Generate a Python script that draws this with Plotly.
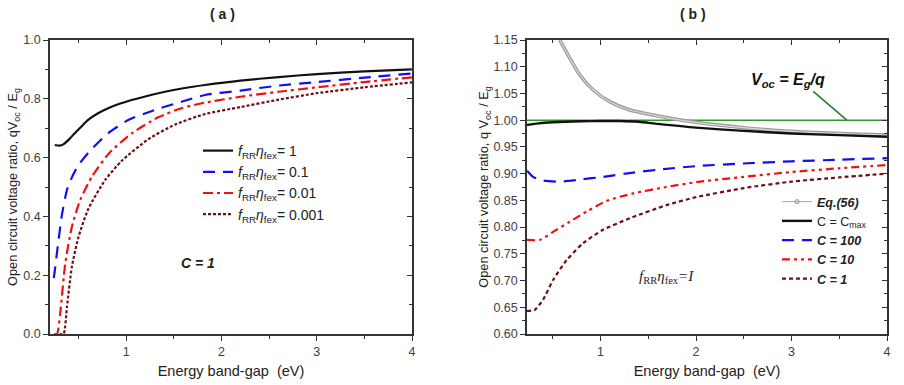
import plotly.graph_objects as go

# ---------------- Panel (a) data: C = 1 ----------------
a_x_1 = [0.25, 0.30, 0.34, 0.40, 0.46, 0.53, 0.60, 0.70, 0.81, 0.93, 1.056, 1.2, 1.406, 1.6, 1.826, 2.2, 2.6, 3.0, 3.5, 4.0]
a_y_1 = [0.643, 0.641, 0.645, 0.662, 0.683, 0.706, 0.728, 0.750, 0.768, 0.783, 0.796, 0.808, 0.824, 0.836, 0.847, 0.862, 0.874, 0.884, 0.893, 0.900]

a_x_01 = [0.24, 0.25, 0.29, 0.325, 0.378, 0.44, 0.5, 0.619, 0.811, 1.021, 1.3, 1.58, 1.826, 2.2, 2.6, 3.0, 3.5, 4.0]
a_y_01 = [0.19, 0.215, 0.32, 0.405, 0.49, 0.54, 0.575, 0.623, 0.683, 0.728, 0.762, 0.790, 0.813, 0.828, 0.845, 0.857, 0.872, 0.886]

a_x_001 = [0.24, 0.273, 0.307, 0.36, 0.43, 0.517, 0.64, 0.82, 1.07, 1.336, 1.58, 1.826, 2.2, 2.6, 3.0, 3.5, 4.0]
a_y_001 = [0.0, 0.0, 0.07, 0.24, 0.365, 0.456, 0.535, 0.615, 0.685, 0.737, 0.768, 0.787, 0.807, 0.824, 0.839, 0.857, 0.873]

a_x_0001 = [0.30, 0.342, 0.378, 0.43, 0.5, 0.604, 0.78, 0.95, 1.23, 1.51, 1.826, 2.2, 2.6, 3.0, 3.5, 4.0]
a_y_0001 = [0.0, 0.0, 0.093, 0.229, 0.331, 0.427, 0.524, 0.588, 0.662, 0.712, 0.748, 0.772, 0.797, 0.819, 0.839, 0.856]

a_names = ["<i>f</i><sub>RR</sub><i>η</i><sub>fex</sub>= 1",
           "<i>f</i><sub>RR</sub><i>η</i><sub>fex</sub>= 0.1",
           "<i>f</i><sub>RR</sub><i>η</i><sub>fex</sub>= 0.01",
           "<i>f</i><sub>RR</sub><i>η</i><sub>fex</sub>= 0.001"]

# ---------------- Panel (b) data: f_RR*eta_fex = 1 ----------------
b_x_eq = [0.573, 0.678, 0.783, 0.923, 1.097, 1.307, 1.551, 1.726, 2.0, 2.5, 3.0, 3.5, 4.0]
b_y_eq = [1.15, 1.116, 1.0845, 1.0565, 1.0346, 1.019, 1.0097, 1.0035, 0.996, 0.986, 0.979, 0.975, 0.972]

b_x_max = [0.23, 0.35, 0.5, 0.8, 1.0, 1.2, 1.4, 1.6, 2.0, 2.5, 3.0, 3.5, 4.0]
b_y_max = [0.991, 0.994, 0.996, 0.998, 0.9985, 0.9985, 0.997, 0.993, 0.986, 0.980, 0.975, 0.972, 0.969]

b_x_100 = [0.23, 0.241, 0.293, 0.398, 0.573, 0.783, 1.027, 1.342, 1.69, 2.0, 2.5, 3.0, 3.5, 4.0]
b_y_100 = [0.905, 0.9036, 0.894, 0.887, 0.885, 0.889, 0.894, 0.902, 0.909, 0.914, 0.919, 0.923, 0.926, 0.929]

b_x_10 = [0.23, 0.364, 0.503, 0.678, 0.853, 1.063, 1.342, 1.69, 2.0, 2.5, 3.0, 3.5, 4.0]
b_y_10 = [0.776, 0.776, 0.791, 0.81, 0.829, 0.849, 0.863, 0.875, 0.884, 0.894, 0.903, 0.910, 0.916]

b_x_1 = [0.23, 0.31, 0.398, 0.503, 0.644, 0.818, 1.027, 1.307, 1.69, 2.0, 2.5, 3.0, 3.5, 4.0]
b_y_1 = [0.643, 0.645, 0.664, 0.701, 0.738, 0.77, 0.795, 0.8166, 0.841, 0.856, 0.873, 0.885, 0.893, 0.90]

b_x_line = [0.23, 4.0]
b_y_line = [1.0, 1.0]

b_names = ["<b><i>Eq.(56)</i></b>", "C = C<sub>max</sub>", "<b><i>C = 100</i></b>",
           "<b><i>C = 10</i></b>", "<b><i>C = 1</i></b>"]

BLACK = "#111111"
BLUE = "#1010f0"
RED = "#f01010"
DRED = "#6e0f12"
GREEN = "#2e9a2e"
GRAY = "#a8a8a8"
FONT = "Liberation Sans, Arial, sans-serif"

fig = go.Figure()

def line(x, y, color, dash, name, xa, ya, legend, width=2.2, show=True):
    fig.add_trace(go.Scatter(x=x, y=y, mode="lines", name=name, xaxis=xa, yaxis=ya,
                             line=dict(color=color, dash=dash, width=width, shape="spline", smoothing=0.6),
                             legend=legend, showlegend=show))

# panel a
line(a_x_1, a_y_1, BLACK, "solid", a_names[0], "x", "y", "legend")
line(a_x_01, a_y_01, BLUE, "12px,8px", a_names[1], "x", "y", "legend")
line(a_x_001, a_y_001, RED, "10px,4px,3px,4px", a_names[2], "x", "y", "legend")
line(a_x_0001, a_y_0001, DRED, "3px,2px", a_names[3], "x", "y", "legend")

# panel b
fig.add_trace(go.Scatter(x=b_x_line, y=b_y_line, mode="lines", xaxis="x2", yaxis="y2",
                         line=dict(color=GREEN, width=1.6), showlegend=False))
fig.add_trace(go.Scatter(x=b_x_eq, y=b_y_eq, mode="lines", xaxis="x2", yaxis="y2",
                         line=dict(color="#9a9a9a", width=3.6, shape="spline", smoothing=0.6), showlegend=False))
fig.add_trace(go.Scatter(x=b_x_eq, y=b_y_eq, mode="lines", xaxis="x2", yaxis="y2",
                         line=dict(color="#d9d9d9", width=1.2, shape="spline", smoothing=0.6), showlegend=False))
fig.add_trace(go.Scatter(x=[None], y=[None], mode="lines+markers", name=b_names[0], xaxis="x2", yaxis="y2",
                         line=dict(color=GRAY, width=1),
                         marker=dict(symbol="circle-open", size=4, color="#888888"), legend="legend2"))
line(b_x_max, b_y_max, BLACK, "solid", b_names[1], "x2", "y2", "legend2", width=2.4)
line(b_x_100, b_y_100, BLUE, "12px,8px", b_names[2], "x2", "y2", "legend2")
line(b_x_10, b_y_10, RED, "8px,4px,3px,4px,3px,4px", b_names[3], "x2", "y2", "legend2")
line(b_x_1, b_y_1, DRED, "4px,3px", b_names[4], "x2", "y2", "legend2")

# empty traces so that the inward-tick mirror axes are drawn
fig.add_trace(go.Scatter(x=[None], y=[None], xaxis="x3", yaxis="y3", showlegend=False))
fig.add_trace(go.Scatter(x=[None], y=[None], xaxis="x4", yaxis="y4", showlegend=False))

XD1 = [50 / 904, 412 / 904]
XD2 = [527 / 904, 887 / 904]
YD = [51 / 385, 345 / 385]

tickfont = dict(family=FONT, size=12.5, color="#404040")
axcol = "#333333"

def xax(rng, dom, anchor, title):
    return dict(range=rng, domain=dom, anchor=anchor, showgrid=False, zeroline=False, automargin=False,
                showline=True, linecolor=axcol, linewidth=1.5, mirror=True,
                ticks="outside", ticklen=5, tickwidth=1.2, tickcolor=axcol,
                tickvals=[1, 2, 3, 4], tickfont=tickfont,
                minor=dict(ticks="outside", ticklen=3, tickcolor=axcol, dtick=0.5, tick0=0),
                title=dict(text=title, font=dict(family=FONT, size=14.5, color="#222222"), standoff=8))

def yax(rng, dom, anchor, dtick, mdtick, fmt, title, standoff):
    return dict(range=rng, domain=dom, anchor=anchor, showgrid=False, zeroline=False, automargin=False,
                showline=True, linecolor=axcol, linewidth=1.5, mirror=True,
                ticks="outside", ticklen=5, tickwidth=1.2, tickcolor=axcol,
                dtick=dtick, tick0=0, tickformat=fmt, tickfont=tickfont,
                minor=dict(ticks="outside", ticklen=3, tickcolor=axcol, dtick=mdtick, tick0=0),
                title=dict(text=title, font=dict(family=FONT, size=12.8, color="#222222"), standoff=standoff))

def mirror_x(rng, dom, over, anchor):
    return dict(range=rng, domain=dom, overlaying=over, anchor=anchor, side="top", automargin=False,
                showgrid=False, zeroline=False, showline=False, showticklabels=False,
                ticks="inside", ticklen=5, tickwidth=1.2, tickcolor=axcol, tickvals=[1, 2, 3, 4],
                minor=dict(ticks="inside", ticklen=3, tickcolor=axcol, dtick=0.5, tick0=0))

def mirror_y(rng, dom, over, anchor, dtick, mdtick):
    return dict(range=rng, domain=dom, overlaying=over, anchor=anchor, side="right", automargin=False,
                showgrid=False, zeroline=False, showline=False, showticklabels=False,
                ticks="inside", ticklen=5, tickwidth=1.2, tickcolor=axcol, dtick=dtick, tick0=0,
                minor=dict(ticks="inside", ticklen=3, tickcolor=axcol, dtick=mdtick, tick0=0))

fig.update_layout(
    width=904, height=385,
    margin=dict(l=0, r=0, t=0, b=0, autoexpand=False),
    paper_bgcolor="white", plot_bgcolor="white",
    font=dict(family=FONT, color="#222222"),
    xaxis=xax([0.2, 4.0], XD1, "y", "Energy band-gap  (eV)"),
    yaxis=yax([0.0, 1.0], YD, "x", 0.2, 0.1, ".1f",
              "Open circuit voltage ratio, qV<sub>oc</sub> / E<sub>g</sub>", 3),
    xaxis2=xax([0.23, 4.0], XD2, "y2", "Energy band-gap  (eV)"),
    yaxis2=yax([0.60, 1.15], YD, "x2", 0.05, 0.025, ".2f",
               "Open circuit voltage ratio, q V<sub>oc</sub> / E<sub>g</sub>", 2),
    xaxis3=mirror_x([0.2, 4.0], XD1, "x", "y3"),
    yaxis3=mirror_y([0.0, 1.0], YD, "y", "x3", 0.2, 0.1),
    xaxis4=mirror_x([0.23, 4.0], XD2, "x2", "y4"),
    yaxis4=mirror_y([0.60, 1.15], YD, "y2", "x4", 0.05, 0.025),
    legend=dict(x=198 / 904, y=1 - 135 / 385, xanchor="left", yanchor="top",
                bgcolor="rgba(0,0,0,0)", font=dict(family=FONT, size=14, color="#222222"),
                tracegroupgap=0, itemwidth=30),
    legend2=dict(x=777 / 904, y=1 - 187 / 385, xanchor="left", yanchor="top",
                 bgcolor="rgba(0,0,0,0)", font=dict(family=FONT, size=12.5, color="#222222"),
                 tracegroupgap=0, itemwidth=30),
    annotations=[
        dict(text="<b>( a )</b>", x=222 / 904, y=1 - 14 / 385, xref="paper", yref="paper",
             xanchor="center", yanchor="middle",
             showarrow=False, font=dict(family=FONT, size=14, color="#222222")),
        dict(text="<b>( b )</b>", x=693 / 904, y=1 - 14 / 385, xref="paper", yref="paper",
             xanchor="center", yanchor="middle",
             showarrow=False, font=dict(family=FONT, size=14, color="#222222")),
        dict(text="<b><i>C = 1</i></b>", x=1.755, y=0.241, xref="x", yref="y",
             xanchor="center", yanchor="middle",
             showarrow=False, font=dict(family=FONT, size=14, color="#222222")),
        dict(text="<i>f</i><sub>RR</sub><i>η</i><sub>fex</sub><i>=I</i>", x=1.695, y=0.707,
             xref="x2", yref="y2", showarrow=False, xanchor="center", yanchor="middle",
             font=dict(family="Liberation Serif, Times New Roman, serif", size=15, color="#222222")),
        dict(text="<b><i>V<sub>oc</sub> = E<sub>g</sub>/q</i></b>", x=788 / 904, y=1 - 81 / 385,
             xref="paper", yref="paper", showarrow=False, xanchor="center", yanchor="middle",
             font=dict(family=FONT, size=16, color="#111111")),
        dict(text="", x=3.579, y=1.0, ax=3.212, ay=1.0565, xref="x2", yref="y2",
             axref="x2", ayref="y2", showarrow=True, arrowhead=0, arrowwidth=1.6,
             arrowcolor="#2a7d2a"),
    ],
)

fig.write_html("out.html", config={"displayModeBar": False},
               post_script="document.body.style.margin='0';document.body.style.overflow='hidden';")
